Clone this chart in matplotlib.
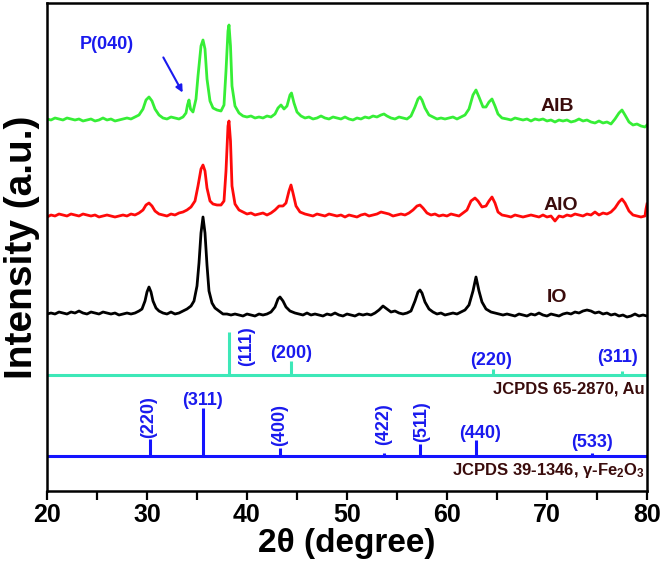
import matplotlib
matplotlib.use("Agg")
import matplotlib.pyplot as plt
from matplotlib import font_manager

names = {f.name for f in font_manager.fontManager.ttflist}
fam = "Liberation Sans Narrow" if "Liberation Sans Narrow" in names else "Liberation Sans"
plt.rcParams["font.family"] = [fam, "DejaVu Sans"]
plt.rcParams["mathtext.fontset"] = "custom"
plt.rcParams["mathtext.bf"] = fam + ":bold"
plt.rcParams["mathtext.rm"] = fam + ":bold"
plt.rcParams["mathtext.default"] = "bf"

# measured patterns (2theta, intensity a.u., already stacked)
io = [(20.0,177),(20.4,178),(20.8,177),(21.2,179),(21.6,178),(22.0,177),(22.4,179),(22.8,178),
      (23.2,180),(23.6,178),(24.0,177),(24.4,179),(24.8,178),(25.2,177),(25.6,179),(26.0,178),
      (26.4,177),(26.8,178),(27.2,176),(27.6,177),(28.0,178),(28.4,177),(28.8,178),(29.2,180),
      (29.5,182),(29.8,190),(30.0,199),(30.2,204),(30.4,199),(30.6,190),(30.9,183),(31.2,180),
      (31.6,178),(32.0,177),(32.4,179),(32.8,177),(33.2,178),(33.6,180),(34.0,182),(34.4,185),
      (34.7,190),(35.0,205),(35.2,228),(35.4,258),(35.6,274),(35.8,258),(36.0,226),(36.2,200),
      (36.5,188),(36.8,183),(37.2,180),(37.6,177),(38.0,177),(38.4,176),(38.8,177),(39.2,176),
      (39.6,175),(40.0,177),(40.4,176),(40.8,175),(41.2,177),(41.6,176),(42.0,177),(42.4,179),
      (42.8,184),(43.1,192),(43.3,194),(43.6,190),(43.9,184),(44.3,180),(44.8,178),(45.2,177),
      (45.6,176),(46.0,178),(46.4,176),(46.8,177),(47.2,176),(47.6,175),(48.0,177),(48.4,176),
      (48.8,178),(49.2,176),(49.6,175),(50.0,177),(50.4,176),(50.8,175),(51.2,177),(51.6,176),
      (52.0,177),(52.4,176),(52.8,178),(53.2,181),(53.6,185),(54.0,182),(54.4,179),(54.8,180),
      (55.2,178),(55.6,177),(56.0,178),(56.4,180),(56.8,190),(57.1,199),(57.3,201),(57.5,198),
      (57.8,189),(58.2,182),(58.6,179),(59.0,177),(59.4,178),(59.8,176),(60.2,177),(60.6,178),
      (61.0,177),(61.4,179),(61.8,181),(62.2,186),(62.6,200),(62.9,214),(63.2,200),(63.5,189),
      (63.9,182),(64.4,179),(64.8,178),(65.2,177),(65.6,176),(66.0,177),(66.4,176),(66.8,175),
      (67.2,177),(67.6,176),(68.0,175),(68.4,177),(68.8,176),(69.2,178),(69.6,176),(70.0,175),
      (70.4,177),(70.8,176),(71.2,175),(71.6,177),(72.0,178),(72.4,177),(72.8,179),(73.2,178),
      (73.6,180),(74.0,181),(74.4,180),(74.8,178),(75.2,179),(75.6,177),(76.0,178),(76.4,176),
      (76.8,177),(77.2,175),(77.6,176),(78.0,174),(78.4,175),(78.8,177),(79.2,175),(79.6,176),
      (80.0,175)]

aio = [(20.0,274),(20.4,276),(20.8,275),(21.2,277),(21.6,276),(22.0,275),(22.4,277),(22.8,276),
       (23.2,275),(23.6,277),(24.0,276),(24.4,275),(24.8,276),(25.2,274),(25.6,275),(26.0,276),
       (26.4,275),(26.8,274),(27.2,275),(27.6,276),(28.0,275),(28.4,277),(28.8,276),(29.2,278),
       (29.6,281),(29.9,286),(30.2,288),(30.5,285),(30.8,280),(31.2,277),(31.6,276),(32.0,275),
       (32.4,277),(32.8,276),(33.2,278),(33.6,279),(34.0,281),(34.4,284),(34.8,290),(35.1,305),
       (35.4,322),(35.6,326),(35.8,320),(36.0,303),(36.3,290),(36.6,287),(37.0,286),(37.4,286),
       (37.7,290),(37.9,320),(38.1,365),(38.2,370),(38.35,350),(38.5,305),(38.8,287),(39.2,281),
       (39.6,279),(40.0,277),(40.4,278),(40.8,276),(41.2,277),(41.6,278),(42.0,276),(42.4,278),
       (42.8,281),(43.2,285),(43.6,285),(43.9,288),(44.2,300),(44.4,306),(44.6,298),(44.9,285),
       (45.3,279),(45.8,277),(46.2,276),(46.6,275),(47.0,277),(47.4,276),(47.8,275),(48.2,277),
       (48.6,276),(49.0,275),(49.4,276),(49.8,274),(50.2,276),(50.6,275),(51.0,274),(51.4,276),
       (51.8,277),(52.2,275),(52.6,276),(53.0,277),(53.4,279),(53.8,278),(54.2,277),(54.6,275),
       (55.0,276),(55.4,277),(55.8,276),(56.2,278),(56.6,281),(57.0,285),(57.3,286),(57.6,283),
       (58.0,278),(58.4,276),(58.8,277),(59.2,275),(59.6,276),(60.0,275),(60.4,277),(60.8,276),
       (61.2,275),(61.6,278),(62.0,281),(62.4,290),(62.8,293),(63.1,290),(63.5,284),(63.9,285),
       (64.2,290),(64.5,294),(64.8,288),(65.1,279),(65.5,276),(66.0,275),(66.4,274),(66.8,276),
       (67.2,275),(67.6,274),(68.0,275),(68.4,276),(68.8,275),(69.2,274),(69.6,276),(70.0,274),
       (70.4,275),(70.8,270),(71.2,275),(71.6,274),(72.0,276),(72.4,275),(72.8,277),(73.2,276),
       (73.6,275),(74.0,277),(74.4,276),(74.8,279),(75.2,276),(75.6,278),(76.0,277),(76.4,279),
       (76.8,283),(77.2,289),(77.5,292),(77.8,288),(78.2,280),(78.6,276),(79.0,275),(79.4,274),
       (79.8,275),(79.9,282),(80.0,287)]

aib = [(20.0,372),(20.4,371),(20.8,373),(21.2,372),(21.6,371),(22.0,373),(22.4,372),(22.8,371),
       (23.2,372),(23.6,370),(24.0,371),(24.4,372),(24.8,370),(25.2,371),(25.6,373),(26.0,371),
       (26.4,372),(26.8,370),(27.2,371),(27.6,372),(28.0,373),(28.4,372),(28.8,374),(29.2,376),
       (29.6,382),(29.9,391),(30.2,394),(30.5,390),(30.8,382),(31.2,376),(31.6,373),(32.0,372),
       (32.4,374),(32.8,373),(33.2,372),(33.6,374),(33.9,378),(34.05,386),(34.2,391),(34.35,382),
       (34.6,379),(34.9,392),(35.1,415),(35.4,445),(35.6,451),(35.8,442),(36.0,412),(36.3,390),
       (36.6,383),(37.0,381),(37.4,380),(37.7,386),(37.9,420),(38.1,460),(38.2,466),(38.35,445),
       (38.5,405),(38.8,385),(39.2,378),(39.6,375),(40.0,374),(40.4,375),(40.8,373),(41.2,374),
       (41.6,373),(42.0,375),(42.4,374),(42.8,377),(43.1,383),(43.4,386),(43.7,382),(44.0,385),
       (44.3,396),(44.45,398),(44.7,388),(45.0,379),(45.4,375),(45.8,373),(46.2,374),(46.6,372),
       (47.0,373),(47.4,375),(47.8,373),(48.2,372),(48.6,374),(49.0,373),(49.4,372),(49.8,374),
       (50.2,372),(50.6,371),(51.0,373),(51.4,372),(51.8,374),(52.2,373),(52.6,375),(53.0,374),
       (53.4,376),(53.7,377),(54.0,375),(54.4,373),(54.8,372),(55.2,374),(55.6,373),(56.0,372),
       (56.4,375),(56.8,384),(57.1,392),(57.3,394),(57.5,391),(57.8,383),(58.2,376),(58.6,374),
       (59.0,372),(59.4,373),(59.8,372),(60.2,373),(60.6,374),(61.0,372),(61.4,374),(61.8,376),
       (62.2,382),(62.6,396),(62.9,401),(63.2,394),(63.6,384),(63.9,384),(64.2,389),(64.5,392),
       (64.8,385),(65.1,377),(65.5,373),(66.0,372),(66.4,371),(66.8,373),(67.2,372),(67.6,371),
       (68.0,372),(68.4,370),(68.8,372),(69.2,371),(69.6,372),(70.0,370),(70.4,371),(70.8,369),
       (71.2,371),(71.6,370),(72.0,371),(72.4,369),(72.8,370),(73.2,372),(73.6,370),(74.0,371),
       (74.4,369),(74.8,368),(75.2,370),(75.6,368),(76.0,369),(76.4,367),(76.8,372),(77.2,378),
       (77.5,381),(77.8,376),(78.2,369),(78.6,366),(79.0,367),(79.4,365),(79.8,364),(80.0,366)]

# reference cards
au_pos = [38.2, 44.4, 64.6, 77.5]
au_height = [43, 14, 6, 4]
au_hkl = ["(111)", "(200)", "(220)", "(311)"]
au_base = 116

fe_pos = [30.3, 35.6, 43.3, 53.7, 57.3, 62.9, 74.5]
fe_height = [17, 48, 8, 3, 12, 16, 3]
fe_hkl = ["(220)", "(311)", "(400)", "(422)", "(511)", "(440)", "(533)"]
fe_base = 35

# label placement: (x, y, rotation)
au_lab = [(40.0, 145, 90), (44.4, 138, 0), (64.4, 131, 0), (77.1, 134, 0)]
fe_lab = [(30.2, 74, 90), (35.6, 91, 0), (43.3, 66, 90), (53.7, 67, 90),
          (57.5, 69, 90), (63.3, 58, 0), (74.5, 49, 0)]

blue = "#1a1aee"
brown = "#3a0c0c"

fig = plt.figure(figsize=(6.61, 5.64), dpi=100)
ax = fig.add_axes([0.0711, 0.1294, 0.9077, 0.8653])

for pts, col in [(io, "black"), (aio, "#ff0a0a"), (aib, "#36ee36")]:
    ax.plot([p[0] for p in pts], [p[1] for p in pts], color=col, lw=2.0)

ax.axhline(au_base, color="#3de8b8", lw=2.2)
ax.vlines(au_pos, au_base, [au_base + h for h in au_height], color="#3de8b8", lw=2.2)
ax.axhline(fe_base, color="#1414ff", lw=2.2)
ax.vlines(fe_pos, fe_base, [fe_base + h for h in fe_height], color="#1414ff", lw=2.2)

for t, (x, y, r) in zip(au_hkl, au_lab):
    ax.text(x, y, t, rotation=r, ha="center", va="center", color=blue,
            fontsize=13, fontweight="bold")
for t, (x, y, r) in zip(fe_hkl, fe_lab):
    ax.text(x, y, t, rotation=r, ha="center", va="center", color=blue,
            fontsize=13, fontweight="bold")

ax.text(79.8, 102, "JCPDS 65-2870, Au", ha="right", va="center", color=brown,
        fontsize=12, fontweight="bold")
ax.text(79.8, 21, r"JCPDS 39-1346, γ-Fe$_2$O$_3$", ha="right", va="center",
        color=brown, fontsize=12, fontweight="bold")

ax.text(71.0, 384, "AIB", ha="center", va="center", color=brown, fontsize=14, fontweight="bold")
ax.text(71.4, 286, "AIO", ha="center", va="center", color=brown, fontsize=14, fontweight="bold")
ax.text(71.0, 194, "IO", ha="center", va="center", color=brown, fontsize=14, fontweight="bold")

ax.annotate("", xy=(33.7, 396), xytext=(31.5, 436),
            arrowprops=dict(arrowstyle="-|>", color=blue, lw=1.5, mutation_scale=10))
ax.text(26.0, 446, "P(040)", ha="center", va="center", color=blue, fontsize=13, fontweight="bold")

ax.set_xlim(20, 80)
ax.set_ylim(0, 488)
ax.set_xticks(range(20, 81, 10))
ax.set_xticks(range(25, 80, 10), minor=True)
ax.set_yticks([])
ax.tick_params(axis="x", which="both", direction="out", length=6.5, width=1.6,
               labelsize=18, pad=2)
for lab in ax.get_xticklabels():
    lab.set_fontweight("bold")
for s in ax.spines.values():
    s.set_linewidth(1.8)

ax.set_xlabel("2θ (degree)", fontsize=24, fontweight="bold")
ax.xaxis.set_label_coords(0.5, -0.075)
ax.set_ylabel("Intensity (a.u.)", fontsize=28, fontweight="bold")
ax.yaxis.set_label_coords(-0.012, 0.5)

fig.savefig("out.png", dpi=100)
